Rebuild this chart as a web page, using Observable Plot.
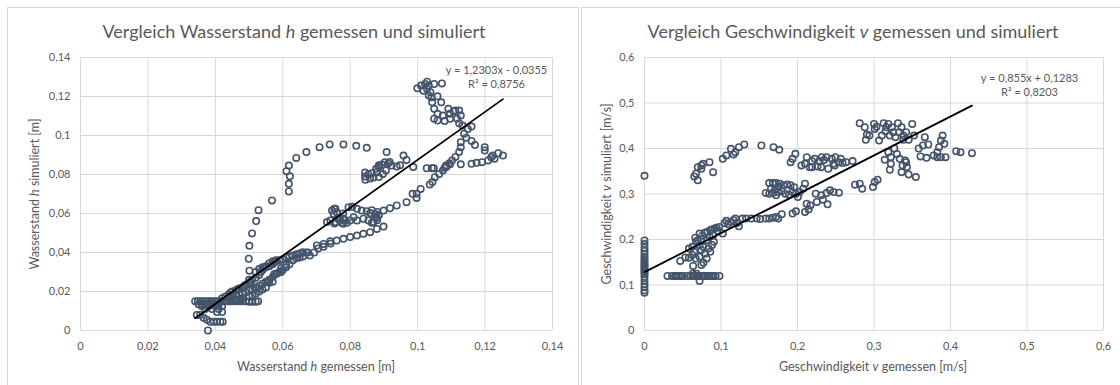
<!DOCTYPE html>
<html><head><meta charset="utf-8">
<script src="https://cdn.jsdelivr.net/npm/d3@7"></script>
<script src="https://cdn.jsdelivr.net/npm/@observablehq/plot@0.6"></script>
<style>
body{margin:0;background:#fff;font-family:Lato,"Open Sans",sans-serif;}
#wrap{position:relative;width:1120px;height:385px;overflow:hidden;background:#fff;}
.panel{position:absolute;border:1px solid #d9d9d9;background:#fff;box-sizing:border-box;}
.title{position:absolute;font-size:18px;color:#595959;white-space:nowrap;transform:translate(-50%,-50%);}
.xlab{position:absolute;font-size:12.5px;color:#595959;white-space:nowrap;transform:translate(-50%,-50%);}
.ylab{position:absolute;font-size:12.5px;color:#595959;white-space:nowrap;transform:translate(-50%,-50%) rotate(-90deg);}
.chart{position:absolute;top:0;}
</style></head>
<body>
<div id="wrap">
  <div class="panel" style="left:7px;top:7px;width:572px;height:420px;"></div>
  <div class="panel" style="left:581px;top:7px;width:560px;height:420px;"></div>
  <div id="c1" class="chart" style="left:0px;"></div>
  <div id="c2" class="chart" style="left:560px;"></div>
  <div class="title" style="left:294px;top:31px;">Vergleich Wasserstand <i>h</i> gemessen und simuliert</div>
  <div class="title" style="left:853px;top:31px;">Vergleich Geschwindigkeit <i>v</i> gemessen und simuliert</div>
  <div class="xlab" style="left:316px;top:366px;">Wasserstand <i>h</i> gemessen [m]</div>
  <div class="ylab" style="left:34px;top:194px;">Wasserstand <i>h</i> simuliert [m]</div>
  <div class="xlab" style="left:873px;top:366px;">Geschwindigkeit <i>v</i> gemessen [m/s]</div>
  <div class="ylab" style="left:606px;top:194px;">Geschwindigkeit <i>v</i> simuliert [m/s]</div>
</div>
<script>
// Wasserstand h: [gemessen, simuliert]
const hPunkte = [
[0.0340,0.0150],[0.0348,0.0150],[0.0355,0.0150],[0.0362,0.0150],[0.0370,0.0150],[0.0378,0.0150],[0.0385,0.0150],[0.0392,0.0150],[0.0400,0.0150],[0.0408,0.0150],[0.0415,0.0150],[0.0422,0.0150],[0.0430,0.0150],[0.0438,0.0150],[0.0445,0.0150],[0.0452,0.0150],[0.0460,0.0150],[0.0468,0.0150],[0.0475,0.0150],[0.0482,0.0150],[0.0490,0.0150],[0.0500,0.0148],[0.0510,0.0148],[0.0520,0.0148],[0.0527,0.0150],
[0.0350,0.0135],[0.0360,0.0135],[0.0370,0.0135],[0.0380,0.0135],[0.0390,0.0135],[0.0400,0.0135],[0.0410,0.0135],
[0.0360,0.0125],[0.0380,0.0125],[0.0400,0.0125],[0.0420,0.0125],
[0.0370,0.0110],[0.0390,0.0110],[0.0410,0.0110],
[0.0405,0.0095],[0.0420,0.0095],
[0.0345,0.0080],[0.0355,0.0080],[0.0365,0.0065],[0.0375,0.0055],
[0.0385,0.0045],[0.0395,0.0045],[0.0405,0.0045],[0.0415,0.0045],[0.0422,0.0045],
[0.0378,0.0000],
[0.0420,0.0165],[0.0430,0.0175],[0.0440,0.0185],[0.0445,0.0195],[0.0450,0.0200],[0.0460,0.0205],[0.0465,0.0210],[0.0470,0.0215],[0.0480,0.0220],[0.0485,0.0228],[0.0490,0.0235],[0.0500,0.0245],[0.0505,0.0250],[0.0510,0.0260],[0.0520,0.0270],[0.0530,0.0285],[0.0535,0.0300],[0.0540,0.0310],[0.0545,0.0320],[0.0550,0.0325],[0.0560,0.0330],[0.0570,0.0340],[0.0575,0.0350],[0.0580,0.0355],[0.0590,0.0360],[0.0600,0.0365],[0.0610,0.0375],[0.0620,0.0380],[0.0630,0.0385],[0.0640,0.0390],[0.0650,0.0395],[0.0660,0.0400],[0.0670,0.0400],
[0.0440,0.0170],[0.0450,0.0175],[0.0460,0.0180],[0.0470,0.0185],[0.0480,0.0190],[0.0490,0.0195],[0.0500,0.0205],[0.0510,0.0210],[0.0520,0.0220],[0.0530,0.0230],[0.0540,0.0240],[0.0550,0.0250],[0.0560,0.0260],[0.0570,0.0275],[0.0580,0.0290],[0.0590,0.0300],[0.0600,0.0310],[0.0610,0.0325],[0.0620,0.0340],[0.0630,0.0360],[0.0640,0.0370],[0.0650,0.0375],
[0.0460,0.0160],[0.0480,0.0165],[0.0500,0.0175],[0.0510,0.0180],[0.0520,0.0190],[0.0530,0.0200],[0.0540,0.0210],[0.0550,0.0220],[0.0560,0.0245],[0.0570,0.0250],[0.0575,0.0290],[0.0585,0.0295],[0.0595,0.0300],
[0.0500,0.0260],[0.0520,0.0300],[0.0530,0.0315],[0.0540,0.0325],[0.0550,0.0330],[0.0560,0.0345],[0.0570,0.0355],[0.0580,0.0360],
[0.0555,0.0250],[0.0522,0.0215],[0.0610,0.0336],[0.0595,0.0320],[0.0660,0.0380],[0.0680,0.0385],
[0.0501,0.0307],[0.0499,0.0368],[0.0501,0.0434],[0.0509,0.0498],[0.0521,0.0561],[0.0528,0.0617],[0.0568,0.0667],[0.0611,0.0817],[0.0618,0.0846],[0.0621,0.0791],[0.0618,0.0752],[0.0618,0.0713],[0.0640,0.0885],[0.0670,0.0915],[0.0709,0.0940],[0.0739,0.0954],[0.0780,0.0954],[0.0818,0.0947],[0.0849,0.0937],
[0.0746,0.0615],[0.0756,0.0624],[0.0751,0.0598],[0.0760,0.0607],[0.0753,0.0625],[0.0741,0.0564],[0.0756,0.0556],[0.0770,0.0564],[0.0785,0.0567],[0.0800,0.0564],[0.0731,0.0556],[0.0780,0.0547],[0.0763,0.0574],[0.0779,0.0574],[0.0753,0.0549],[0.0774,0.0552],[0.0790,0.0552],[0.0779,0.0600],
[0.0795,0.0632],[0.0806,0.0634],[0.0820,0.0624],[0.0834,0.0615],[0.0849,0.0612],[0.0859,0.0602],[0.0864,0.0617],[0.0874,0.0598],[0.0880,0.0608],[0.0879,0.0578],[0.0869,0.0556],[0.0854,0.0564],[0.0820,0.0564],[0.0839,0.0573],[0.0810,0.0581],[0.0874,0.0583],[0.0880,0.0566],[0.0885,0.0591],[0.0864,0.0552],
[0.0642,0.0390],[0.0658,0.0400],[0.0674,0.0400],[0.0693,0.0400],[0.0705,0.0421],[0.0701,0.0436],[0.0721,0.0444],[0.0721,0.0429],[0.0741,0.0458],[0.0742,0.0446],[0.0760,0.0461],[0.0780,0.0470],[0.0800,0.0479],[0.0820,0.0487],[0.0839,0.0496],[0.0859,0.0504],[0.0879,0.0521],[0.0899,0.0533],
[0.0899,0.0615],[0.0918,0.0627],[0.0938,0.0641],[0.0967,0.0658],[0.0985,0.0701],[0.0997,0.0680],[0.0997,0.0701],[0.1009,0.0726],[0.1036,0.0749],[0.1044,0.0761],[0.1051,0.0786],[0.1064,0.0803],[0.1075,0.0821],[0.1080,0.0835],[0.1085,0.0838],[0.1096,0.0852],[0.1102,0.0872],[0.1112,0.0890],[0.1123,0.0916],[0.1128,0.0940],[0.1128,0.0966],[0.1138,0.1009],[0.1144,0.0989],[0.1149,0.1033],[0.1160,0.0972],[0.1170,0.0951],[0.1160,0.1046],
[0.0844,0.0790],[0.0844,0.0810],[0.0854,0.0800],[0.0864,0.0807],[0.0877,0.0829],[0.0884,0.0838],[0.0894,0.0851],[0.0903,0.0863],[0.0913,0.0858],[0.0923,0.0846],[0.0908,0.0915],[0.0897,0.0803],[0.0879,0.0812],[0.0938,0.0841],[0.0958,0.0897],[0.0967,0.0875],[0.0987,0.0838],[0.0845,0.0773],[0.0859,0.0779],[0.0869,0.0784],[0.0885,0.0847],[0.0917,0.0864],[0.0906,0.0821],[0.0948,0.0847],[0.0885,0.0787],
[0.1027,0.0832],[0.1042,0.0832],[0.1048,0.0832],[0.1084,0.0846],[0.1094,0.0858],[0.1128,0.0852],[0.1160,0.0855],[0.1175,0.0860],[0.1191,0.0863],[0.1199,0.0940],[0.1199,0.0923],[0.1209,0.0872],[0.1218,0.0889],[0.1228,0.0881],[0.1223,0.0897],[0.1239,0.0909],[0.1253,0.0897],
[0.0999,0.1242],[0.1010,0.1256],[0.1022,0.1264],[0.1028,0.1276],[0.1033,0.1256],[0.1049,0.1264],[0.1072,0.1267],[0.1017,0.1230],[0.1028,0.1239],[0.1038,0.1222],[0.1041,0.1196],[0.1033,0.1205],[0.1059,0.1201],[0.1043,0.1170],[0.1070,0.1170],[0.1049,0.1137],[0.1049,0.1086],[0.1059,0.1077],[0.1059,0.1111],[0.1075,0.1102],[0.1080,0.1074],[0.1091,0.1137],[0.1096,0.1111],[0.1107,0.1123],[0.1112,0.1128],[0.1123,0.1128],[0.1128,0.1102],[0.1096,0.1086],[0.1117,0.1086],[0.1123,0.1063],[0.1133,0.1051]
];
// Geschwindigkeit v: [gemessen, simuliert]
const vPunkte = [
[0,0.340],[0,0.198],[0,0.190],[0,0.182],[0,0.175],[0,0.168],[0,0.162],[0,0.157],[0,0.152],[0,0.148],[0,0.144],[0,0.140],[0,0.136],[0,0.132],[0,0.128],[0,0.124],[0,0.118],[0,0.110],[0,0.102],[0,0.095],[0,0.088],[0,0.083],
[0.030,0.120],[0.036,0.120],[0.040,0.120],[0.042,0.120],[0.045,0.120],[0.048,0.120],[0.050,0.120],[0.055,0.120],[0.060,0.120],[0.063,0.120],[0.065,0.120],[0.068,0.120],[0.070,0.120],[0.072,0.120],[0.075,0.120],[0.078,0.120],[0.080,0.120],[0.083,0.120],[0.085,0.120],[0.088,0.120],[0.090,0.120],[0.093,0.120],[0.098,0.120],[0.063,0.125],[0.068,0.125],[0.072,0.109],
[0.0467,0.153],[0.0533,0.1606],[0.058,0.160],[0.0626,0.166],[0.067,0.158],[0.065,0.173],[0.072,0.162],[0.0743,0.177],[0.0766,0.184],[0.079,0.169],[0.0813,0.158],[0.0836,0.180],[0.086,0.173],[0.0883,0.188],[0.0907,0.195],[0.0636,0.142],[0.0743,0.144],[0.077,0.149],
[0.0664,0.204],[0.0696,0.1985],[0.072,0.213],[0.0757,0.209],[0.079,0.2146],[0.0822,0.2168],[0.086,0.2204],[0.0883,0.222],[0.0916,0.224],[0.0944,0.226],[0.0977,0.2277],[0.0953,0.219],[0.0673,0.195],[0.0743,0.200],[0.0626,0.184],[0.058,0.180],[0.0813,0.1985],[0.085,0.206],[0.0897,0.2095],[0.072,0.1876],
[0.1023,0.213],[0.1047,0.2365],[0.107,0.241],[0.1093,0.2336],[0.113,0.2387],[0.1164,0.2423],[0.1187,0.246],[0.121,0.2365],[0.1234,0.229],[0.128,0.246],[0.1327,0.246],[0.1397,0.246],[0.1467,0.246],[0.1514,0.245],[0.1584,0.246],[0.163,0.246],[0.1678,0.248],[0.172,0.2496],[0.1748,0.246],[0.1794,0.2555],[0.1935,0.257],[0.198,0.262],[0.2098,0.2606],[0.2145,0.2657],[0.212,0.2788],[0.2168,0.275],[0.2252,0.2825],[0.2332,0.2876],[0.2393,0.2774],[0.2238,0.3007],[0.231,0.297],[0.238,0.302],[0.2425,0.308],[0.2472,0.3044],[0.2542,0.303],
[0.1584,0.3022],[0.163,0.324],[0.1678,0.324],[0.172,0.324],[0.177,0.3226],[0.1818,0.319],[0.1864,0.321],[0.191,0.319],[0.1958,0.315],[0.1654,0.3117],[0.1701,0.308],[0.1748,0.3044],[0.1794,0.3066],[0.184,0.3007],[0.1888,0.2985],[0.1935,0.3044],[0.198,0.3007],[0.2005,0.2934],[0.163,0.3007],[0.1678,0.3022],[0.172,0.297],[0.1757,0.3153],[0.2028,0.3044],[0.2098,0.3226],[0.2075,0.3117],
[0.191,0.370],[0.1935,0.3774],[0.1972,0.3883],[0.2051,0.3628],[0.2098,0.3664],[0.2121,0.381],[0.2159,0.359],[0.2191,0.372],[0.2224,0.3774],[0.2262,0.3606],[0.2285,0.372],[0.2318,0.381],[0.2346,0.375],[0.238,0.381],[0.2402,0.3555],[0.2191,0.359],[0.231,0.359],[0.2486,0.3628],[0.2495,0.381],[0.2565,0.3774],[0.259,0.3679],[0.2635,0.370],[0.272,0.3723],[0.247,0.3664],[0.2542,0.370],[0.2449,0.3774],
[0.065,0.3387],[0.0673,0.3445],[0.0696,0.359],[0.0696,0.330],[0.0743,0.3555],[0.0743,0.3628],[0.0766,0.3664],[0.085,0.370],[0.0897,0.348],[0.1023,0.3774],[0.107,0.3847],[0.113,0.3993],[0.1164,0.3869],[0.1187,0.392],[0.1234,0.403],[0.1304,0.4088],[0.1528,0.4066],[0.1687,0.403],[0.1762,0.397],
[0.2813,0.4555],[0.2879,0.4467],[0.2907,0.4307],[0.2893,0.419],[0.294,0.4285],[0.300,0.454],[0.3009,0.443],[0.3033,0.448],[0.3066,0.4175],[0.3126,0.4555],[0.3159,0.4467],[0.315,0.438],[0.3187,0.454],[0.3206,0.4285],[0.3234,0.4467],[0.3252,0.4358],[0.328,0.4248],[0.3313,0.4555],[0.3327,0.4358],[0.336,0.4467],[0.3383,0.4285],[0.342,0.4358],[0.3453,0.419],[0.350,0.454],[0.3523,0.4285],[0.3383,0.419],[0.3103,0.4285],
[0.314,0.3752],[0.3187,0.392],[0.322,0.3664],[0.322,0.381],[0.3206,0.3533],[0.3266,0.400],[0.330,0.388],[0.3336,0.3774],[0.336,0.348],[0.3373,0.3628],[0.3406,0.3737],[0.343,0.359],[0.3453,0.343],[0.3547,0.3372],[0.342,0.370],
[0.3584,0.400],[0.3608,0.3825],[0.364,0.4066],[0.3664,0.4248],[0.3687,0.3796],[0.371,0.4088],[0.378,0.3847],[0.3827,0.381],[0.385,0.4029],[0.3874,0.4175],[0.3897,0.4285],[0.392,0.4102],[0.3874,0.381],[0.3935,0.381],[0.4075,0.394],[0.4131,0.392],[0.428,0.3898],[0.3827,0.392],
[0.2752,0.3204],[0.2813,0.3226],[0.2846,0.3117],[0.2987,0.3153],[0.3009,0.3263],[0.3047,0.3314]
];
const hTrend = [1.2303, -0.0355];   // Steigung, Achsenabschnitt
const vTrend = [0.855, 0.1283];
const hGleichung = ["y = 1,2303x - 0,0355", "R² = 0,8756"];
const vGleichung = ["y = 0,855x + 0,1283", "R² = 0,8203"];
const hTicksX = [0,0.02,0.04,0.06,0.08,0.1,0.12,0.14];
const hTicksY = [0,0.02,0.04,0.06,0.08,0.1,0.12,0.14];
const vTicksX = [0,0.1,0.2,0.3,0.4,0.5,0.6];
const vTicksY = [0,0.1,0.2,0.3,0.4,0.5,0.6];

const fmt = d => String(d).replace(".", ",");
const FONT = 'Lato, "Open Sans", sans-serif';

function chart(points, coef, xTicks, yTicks, eq, w, mLeft, mRight, eqDx, eqDy) {
  const ext = d3.extent(points, d => d[0]);
  const trend = ext.map(x => ({x, y: coef[0] * x + coef[1]}));
  return Plot.plot({
    width: w, height: 385,
    marginLeft: mLeft, marginRight: mRight, marginTop: 57, marginBottom: 55,
    style: {fontFamily: FONT, fontSize: "11px", color: "#595959", background: "transparent"},
    x: {domain: [xTicks[0], xTicks[xTicks.length - 1]], axis: null},
    y: {domain: [yTicks[0], yTicks[yTicks.length - 1]], axis: null},
    marks: [
      Plot.gridX(xTicks, {stroke: "#d9d9d9", strokeOpacity: 1}),
      Plot.gridY(yTicks, {stroke: "#d9d9d9", strokeOpacity: 1}),
      Plot.axisX(xTicks, {tickSize: 0, tickPadding: 12, tickFormat: fmt, label: null, fill: "#595959"}),
      Plot.axisY(yTicks, {tickSize: 0, tickPadding: 10, tickFormat: fmt, label: null, fill: "#595959"}),
      Plot.dot(points, {x: d => d[0], y: d => d[1], r: 3.2, stroke: "#44546a", strokeWidth: 1.6, fill: "none"}),
      Plot.line(trend, {x: "x", y: "y", stroke: "#000", strokeWidth: 1.8}),
      Plot.text([eq.join("\n")], {text: d => d, frameAnchor: "top-right", textAnchor: "middle", lineAnchor: "top",
        dx: eqDx, dy: eqDy, fill: "#595959", fontSize: 11, lineHeight: 1.3})
    ]
  });
}

document.getElementById("c1").append(chart(hPunkte, hTrend, hTicksX, hTicksY, hGleichung, 576, 80, 24, -56, 6));
document.getElementById("c2").append(chart(vPunkte, vTrend, vTicksX, vTicksY, vGleichung, 560, 84, 17, -74, 14));
</script>
</body></html>
